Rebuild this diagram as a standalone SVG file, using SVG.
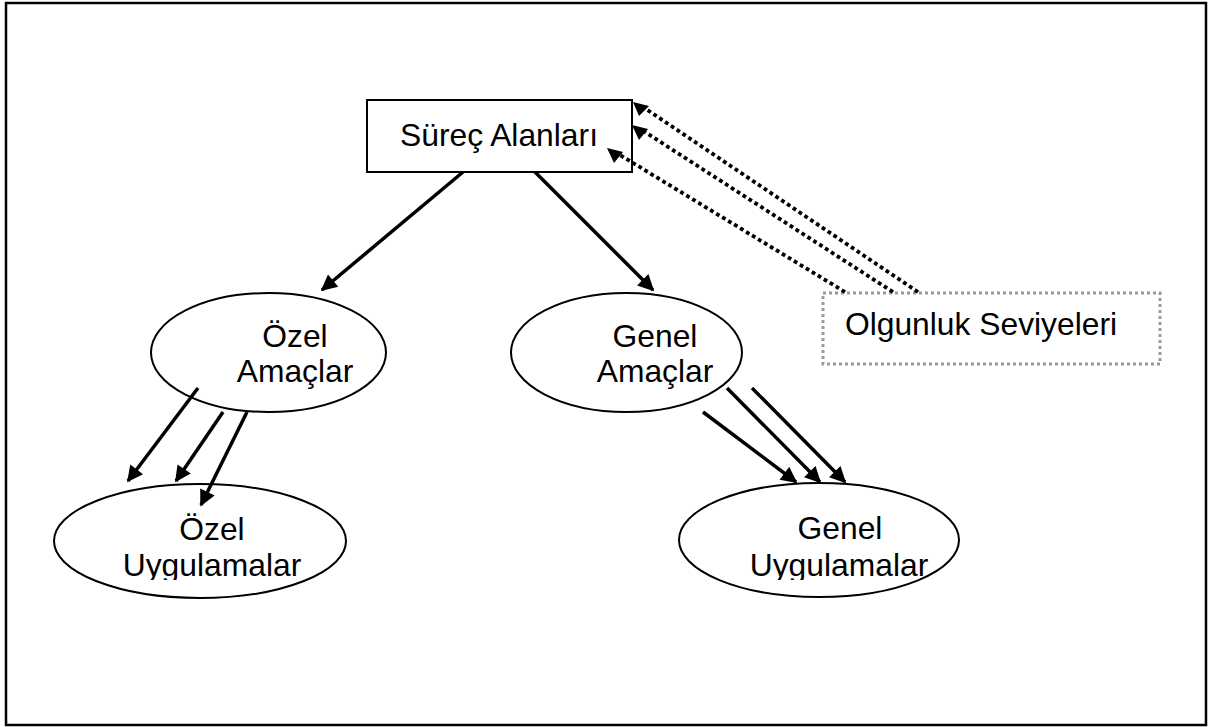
<svg xmlns="http://www.w3.org/2000/svg" width="1208" height="727" viewBox="0 0 1208 727">
  <defs>
    <style>
      .lbl { font-family: "Liberation Sans", Arial, sans-serif; font-size: 31.8px; fill: #000; text-anchor: middle; }
      .shape { fill: #fff; stroke: #000; stroke-width: 2; }
      .solid { stroke: #000; stroke-width: 3.5; fill: none; marker-end: url(#head); }
      .dotted { stroke: #000; stroke-width: 3.8; stroke-dasharray: 3.8 3.2; fill: none; }
      .tri { fill: #000; }
    </style>
    <marker id="head" viewBox="0 0 10 10" refX="9" refY="5" markerWidth="5" markerHeight="4.6" markerUnits="strokeWidth" orient="auto">
      <path d="M0,0 L10,5 L0,10 z" fill="#000"/>
    </marker>
    <clipPath id="clipLow">
      <rect x="0" y="0" width="1208" height="580"/>
    </clipPath>
  </defs>

  <!-- page frame -->
  <rect x="6" y="3" width="1200" height="722" fill="#fff" stroke="#000" stroke-width="2.5"/>

  <g id="surec-alanlari">
    <rect class="shape" x="367" y="100" width="265" height="72"/>
    <text class="lbl" x="499" y="146">Süreç Alanları</text>
  </g>

  <g id="olgunluk-seviyeleri">
    <rect x="823" y="293" width="337" height="71" fill="#fff" stroke="#999" stroke-width="3" stroke-dasharray="3 3"/>
    <text class="lbl" x="981" y="335">Olgunluk Seviyeleri</text>
  </g>

  <g id="ozel-amaclar">
    <ellipse class="shape" cx="268.5" cy="352.5" rx="117.5" ry="59.5"/>
    <text class="lbl" x="295" y="347">Özel</text>
    <text class="lbl" x="295" y="382">Amaçlar</text>
  </g>

  <g id="genel-amaclar">
    <ellipse class="shape" cx="626.5" cy="352.5" rx="115.5" ry="59.5"/>
    <text class="lbl" x="655" y="347">Genel</text>
    <text class="lbl" x="655" y="382">Amaçlar</text>
  </g>

  <g id="ozel-uygulamalar">
    <ellipse class="shape" cx="200" cy="541" rx="146" ry="57"/>
    <g clip-path="url(#clipLow)">
      <text class="lbl" x="212" y="540">Özel</text>
      <text class="lbl" x="212" y="576">Uygulamalar</text>
    </g>
  </g>

  <g id="genel-uygulamalar">
    <ellipse class="shape" cx="819" cy="540" rx="140" ry="57"/>
    <g clip-path="url(#clipLow)">
      <text class="lbl" x="840" y="539">Genel</text>
      <text class="lbl" x="839" y="576">Uygulamalar</text>
    </g>
  </g>

  <!-- connectors, drawn over the nodes -->
  <g id="connectors">
    <!-- process areas to goals -->
    <line class="solid" x1="463" y1="172" x2="322" y2="290"/>
    <line class="solid" x1="535" y1="172" x2="653" y2="290"/>
    <!-- specific goals to specific practices -->
    <line class="solid" x1="198" y1="388" x2="128" y2="481"/>
    <line class="solid" x1="223" y1="412" x2="176" y2="481"/>
    <line class="solid" x1="247" y1="412" x2="201" y2="505"/>
    <!-- generic goals to generic practices -->
    <line class="solid" x1="703" y1="412" x2="796" y2="482"/>
    <line class="solid" x1="727" y1="388" x2="820" y2="482"/>
    <line class="solid" x1="752" y1="388" x2="845" y2="482"/>
    <!-- maturity levels to process areas -->
    <line class="dotted" x1="918" y1="292" x2="646" y2="109"/>
    <line class="dotted" x1="893" y1="292" x2="645" y2="132"/>
    <line class="dotted" x1="845" y1="292" x2="620" y2="155"/>
    <polygon class="tri" points="633,102 649,106 639,116"/>
    <polygon class="tri" points="632,125 648,129 639,140"/>
    <polygon class="tri" points="607,148 623,152 614,163"/>
  </g>
</svg>
